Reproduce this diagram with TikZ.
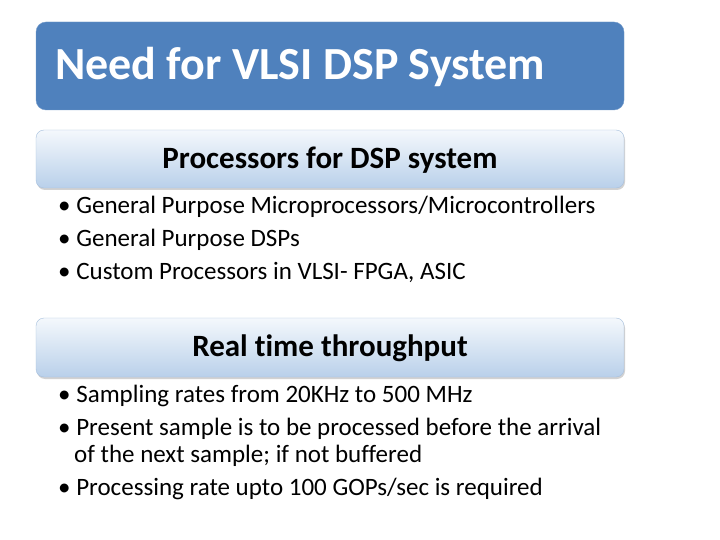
\documentclass[tikz,border=0pt]{standalone}
\usepackage{fontspec}
\setmainfont[Ligatures=NoCommon]{Carlito}
\usetikzlibrary{shadows}
\definecolor{titleblue}{HTML}{4F81BD}
\definecolor{lightA}{HTML}{F4F8FC}
\definecolor{lightB}{HTML}{B9D0EA}
\definecolor{edgeblue}{HTML}{A7C0DE}
\begin{document}
\begin{tikzpicture}[x=1pt,y=-1pt,
  titlebox/.style={fill=titleblue,draw=titleblue!80!white,rounded corners=10pt},
  headbox/.style={top color=lightA,bottom color=lightB,draw=edgeblue,rounded corners=8pt,drop shadow={opacity=0.35,shadow xshift=1pt,shadow yshift=-2pt}},
  bullet/.style={anchor=west,font=\fontsize{25}{28}\selectfont,inner sep=0pt}]
\useasboundingbox (0,0) rectangle (720,540);
\fill[white] (0,0) rectangle (720,540);
\draw[titlebox] (36,22) rectangle (624,110);
\node[anchor=west,text=white,font=\bfseries\fontsize{46}{50}\selectfont,inner sep=0pt] (title) at (55,67) {Need for VLSI DSP System};
\draw[headbox] (36,130) rectangle (624,188);
\node[font=\bfseries\fontsize{31}{34}\selectfont,inner sep=0pt] (h1) at (330,160) {Processors for DSP system};
\node[bullet] (b1) at (58,207) {• General Purpose Microprocessors/Microcontrollers};
\node[bullet] (b2) at (58,240) {• General Purpose DSPs};
\node[bullet] (b3) at (58,272) {• Custom Processors in VLSI- FPGA, ASIC};
\draw[headbox] (36,318) rectangle (624,377);
\node[font=\bfseries\fontsize{31}{34}\selectfont,inner sep=0pt] (h2) at (330,348) {Real time throughput};
\node[bullet] (c1) at (58,396) {• Sampling rates from 20KHz to 500 MHz};
\node[bullet] (c2) at (58,429) {• Present sample is to be processed before the arrival};
\node[bullet] (c3) at (74,456) {of the next sample; if not buffered};
\node[bullet] (c4) at (58,489) {• Processing rate upto 100 GOPs/sec is required};
\end{tikzpicture}
\end{document}
